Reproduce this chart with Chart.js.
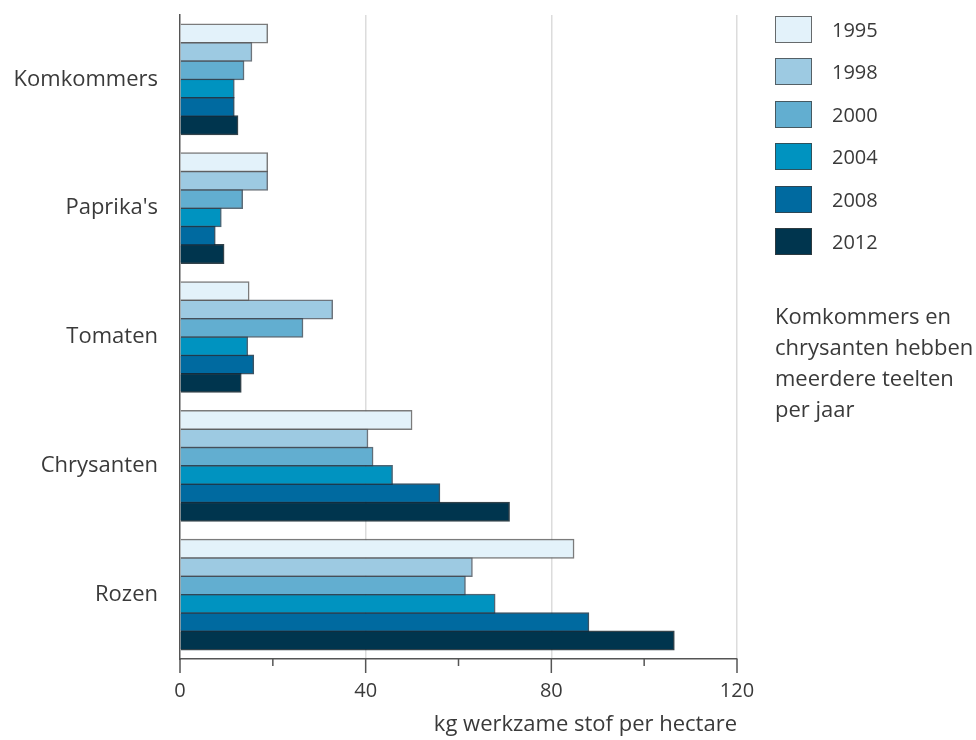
<!DOCTYPE html>
<html>
<head>
<meta charset="utf-8">
<script src="https://cdn.jsdelivr.net/npm/chart.js@4.4.1/dist/chart.umd.min.js"></script>
<style>
  html, body { margin: 0; padding: 0; background: #fff; }
  #wrap { position: relative; width: 976px; height: 740px; }
  #chart { position: absolute; left: 0; top: 0; }
  .legend-item { position: absolute; left: 775px; height: 28px; }
  .legend-box { position: absolute; left: 0; top: 0; width: 35px; height: 25px; border: 1.5px solid rgba(60,60,60,0.75); }
  .legend-label { position: absolute; left: 57px; top: 0; line-height: 28px; font: 20px "Open Sans", sans-serif; color: #3a3a3a; }
  #note { position: absolute; left: 775px; top: 300px; font: 22px "Open Sans", sans-serif; line-height: 31px; color: #3a3a3a; white-space: nowrap; }
</style>
</head>
<body>
<div id="wrap">
  <canvas id="chart" width="976" height="740"></canvas>
  <div id="legend"></div>
  <div id="note">Komkommers en<br>chrysanten hebben<br>meerdere teelten<br>per jaar</div>
</div>
<script>
// gewasgroepen en jaren
const gewassen = ['Komkommers', "Paprika's", 'Tomaten', 'Chrysanten', 'Rozen'];
const jaren = ['1995', '1998', '2000', '2004', '2008', '2012'];

// kg werkzame stof per hectare, per jaar (volgorde gewassen)
const v1995 = [18.8, 18.8, 14.8, 49.9, 84.8];
const v1998 = [15.4, 18.8, 32.8, 40.4, 62.9];
const v2000 = [13.7, 13.4, 26.4, 41.5, 61.4];
const v2004 = [11.6, 8.8, 14.5, 45.7, 67.8];
const v2008 = [11.6, 7.5, 15.8, 55.9, 88.0];
const v2012 = [12.4, 9.4, 13.1, 70.9, 106.4];

const xTicks = [0, 40, 80, 120];
const kleuren = ['#e3f2fa', '#9dcae2', '#62aed0', '#0093c0', '#006aa0', '#00354e'];
const randen = ['rgba(90,90,90,0.8)', 'rgba(60,70,80,0.75)', 'rgba(40,60,75,0.75)', 'rgba(20,50,70,0.75)', 'rgba(10,40,60,0.8)', 'rgba(0,20,30,0.8)'];
const reeksen = [v1995, v1998, v2000, v2004, v2008, v2012];

const tekstKleur = '#3a3a3a';
const font = { family: '"Open Sans", sans-serif', size: 20 };
const grootFont = { family: '"Open Sans", sans-serif', size: 22 };

// kleine streepjes onder de x-as (lang bij labels, kort ertussen)
const asStreepjes = {
    id: 'asStreepjes',
    afterDraw(chart) {
        const x = chart.scales.x;
        const c = chart.ctx;
        c.save();
        c.strokeStyle = '#555';
        c.lineWidth = 1.5;
        for (let v = 0; v <= 120; v += 20) {
            const px = x.getPixelForValue(v);
            const len = xTicks.includes(v) ? 14 : 7;
            c.beginPath();
            c.moveTo(px, x.top);
            c.lineTo(px, x.top + len);
            c.stroke();
        }
        c.restore();
    }
};

new Chart(document.getElementById('chart'), {
    type: 'bar',
    data: {
        labels: gewassen,
        datasets: jaren.map((j, i) => ({
            label: j,
            data: reeksen[i],
            backgroundColor: kleuren[i],
            borderColor: randen[i],
            borderWidth: 1.5,
            inflateAmount: 0.8,
            categoryPercentage: 0.855,
            barPercentage: 1.0
        }))
    },
    options: {
        indexAxis: 'y',
        responsive: false,
        animation: false,
        layout: { padding: { top: 15, right: 239, left: 0, bottom: 0 } },
        plugins: {
            legend: { display: false },
            tooltip: { enabled: false }
        },
        scales: {
            x: {
                min: 0,
                max: 120,
                afterFit(scale) { scale.height = 81; },
                ticks: {
                    stepSize: 20,
                    color: tekstKleur,
                    font: font,
                    padding: 20,
                    maxRotation: 0,
                    callback: v => xTicks.includes(v) ? String(v) : ''
                },
                grid: {
                    drawTicks: false,
                    color: ctx => (ctx.tick && ctx.tick.value > 0 && ctx.tick.value % 40 === 0) ? '#dcdcdc' : 'rgba(0,0,0,0)',
                    lineWidth: 1.5
                },
                border: { display: true, color: '#555', width: 1.5 },
                title: {
                    display: true,
                    text: 'kg werkzame stof per hectare',
                    align: 'end',
                    color: tekstKleur,
                    font: grootFont,
                    padding: { top: 0, bottom: 2 }
                }
            },
            y: {
                afterFit(scale) {
                    scale.width = 180;
                    scale.paddingTop = 0;
                    scale.paddingBottom = 0;
                },
                ticks: {
                    color: tekstKleur,
                    font: grootFont,
                    padding: 22
                },
                grid: { display: false, drawTicks: false },
                border: { display: true, color: '#555', width: 1.5 }
            }
        }
    },
    plugins: [asStreepjes]
});

// legenda rechts
const legend = document.getElementById('legend');
jaren.forEach((j, i) => {
    const item = document.createElement('div');
    item.className = 'legend-item';
    item.style.top = (16 + i * 42.4) + 'px';
    const box = document.createElement('div');
    box.className = 'legend-box';
    box.style.background = kleuren[i];
    const lab = document.createElement('div');
    lab.className = 'legend-label';
    lab.textContent = j;
    item.appendChild(box);
    item.appendChild(lab);
    legend.appendChild(item);
});
</script>
</body>
</html>
